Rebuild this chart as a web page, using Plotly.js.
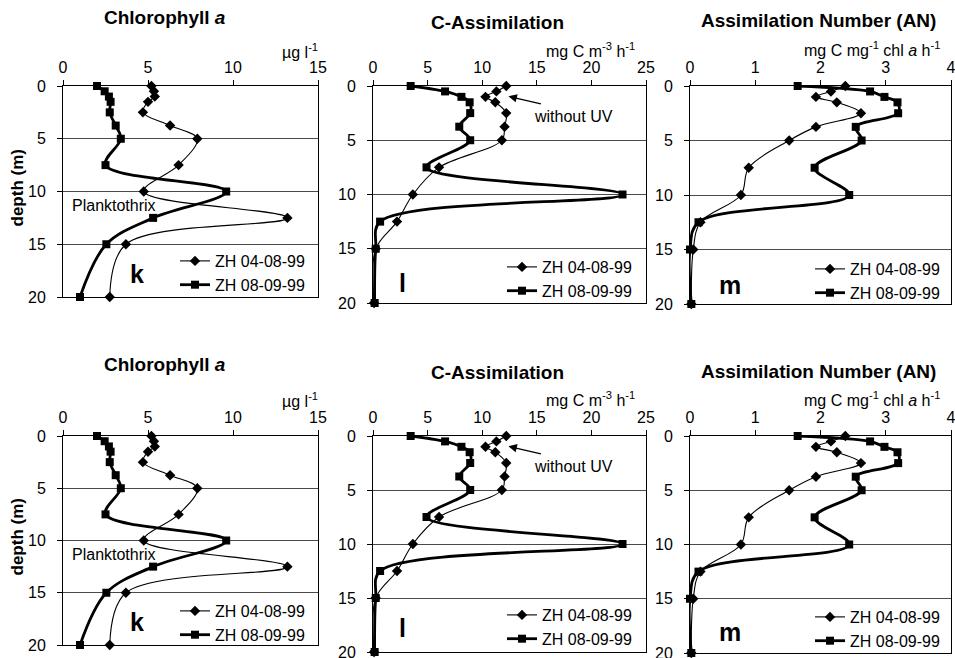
<!DOCTYPE html>
<html>
<head>
<meta charset="utf-8">
<script src="https://cdn.plot.ly/plotly-3.0.1.min.js"></script>
<style>
  html, body { margin: 0; padding: 0; background: #ffffff; }
  #chart { width: 955px; height: 658px; }
</style>
</head>
<body>
<div id="chart"></div>
<script>
// ---------------- DATA ----------------
const depth = [0, 0.5, 1, 1.5, 2.5, 3.75, 5, 7.5, 10, 12.5, 15, 20];
const seriesNames = ['ZH 04-08-99', 'ZH 08-09-99'];

const chlA_040899 = [5.2, 5.35, 5.4, 5.0, 4.7, 6.3, 7.9, 6.8, 4.75, 13.2, 3.7, 2.75];
const chlA_080999 = [2.0, 2.45, 2.7, 2.8, 2.75, 3.1, 3.4, 2.5, 9.6, 5.3, 2.55, 1.0];

const cAss_040899 = [12.2, 11.3, 10.3, 11.2, 12.2, 12.05, 11.8, 6.05, 3.65, 2.2, 0.25, 0.1];
const cAss_080999 = [3.45, 6.6, 8.1, 8.85, 8.9, 7.9, 8.9, 4.9, 22.85, 0.65, 0.25, 0.15];

const an_040899 = [2.38, 2.16, 1.93, 2.25, 2.62, 1.93, 1.52, 0.9, 0.78, 0.16, 0.05, 0.02];
const an_080999 = [1.65, 2.76, 2.98, 3.18, 3.19, 2.54, 2.63, 1.91, 2.44, 0.13, 0.0, 0.02];

const xRanges = [[0, 15], [0, 25], [0, 4]];
const xTicks = [[0, 5, 10, 15], [0, 5, 10, 15, 20, 25], [0, 1, 2, 3, 4]];
const depthTicks = [0, 5, 10, 15, 20];

const panelTitles = ['<b>Chlorophyll <i>a</i></b>', '<b>C-Assimilation</b>', '<b>Assimilation Number (AN)</b>'];
const unitLabels = ['µg l<sup>-1</sup>', 'mg C m<sup>-3</sup> h<sup>-1</sup>', 'mg C mg<sup>-1</sup> chl <i>a</i> h<sup>-1</sup>'];
const panelLetters = ['k', 'l', 'm'];

// ---------------- LAYOUT GEOMETRY (pixels) ----------------
const W = 955, H = 658;
const FONT = 'Liberation Sans, Arial, Helvetica, sans-serif';
const px = v => v / W;
const py = v => 1 - v / H;

// plot areas: [left, right, top, bottom]
const areas = [
  [63, 318, 86, 297], [373, 646, 86, 303], [690, 951, 86, 304],
  [63, 318, 436, 645], [373, 646, 436, 652], [690, 951, 436, 653]
];
const titlePos = [[165, 18], [497, 22], [818, 21], [165, 364], [497, 372], [818, 371]];
const unitPos = [[320, 51], [637, 50], [942, 49], [320, 400], [637, 399], [942, 399]];
const letterPos = [[137, 274], [402, 283], [730, 285], [137, 622], [402, 628], [730, 632]];
const legendPos = [[310, 244], [637, 250], [945, 252], [310, 594], [637, 598], [945, 600]];

const dataSets = [
  [chlA_040899, chlA_080999],
  [cAss_040899, cAss_080999],
  [an_040899, an_080999]
];

const traces = [];
const layout = {
  width: W, height: H,
  margin: {l: 0, r: 0, t: 0, b: 0},
  paper_bgcolor: '#ffffff',
  plot_bgcolor: '#ffffff',
  font: {family: FONT, size: 16, color: '#000'},
  showlegend: true,
  annotations: [],
  shapes: []
};

for (let p = 0; p < 6; p++) {
  const col = p % 3;
  const idx = p + 1;
  const xa = idx === 1 ? 'x' : 'x' + idx;
  const ya = idx === 1 ? 'y' : 'y' + idx;
  const lg = idx === 1 ? 'legend' : 'legend' + idx;
  const [l, r, t, b] = areas[p];

  layout[idx === 1 ? 'xaxis' : 'xaxis' + idx] = {
    domain: [px(l), px(r)], anchor: ya, side: 'top',
    range: xRanges[col], tickvals: xTicks[col], ticks: 'outside', ticklen: 5,
    tickcolor: '#000', showline: true, linecolor: '#000', linewidth: 1, mirror: true,
    showgrid: false, zeroline: false, ticklabelstandoff: 1, ticklabeloverflow: 'allow',
    tickfont: {family: FONT, size: 16, color: '#000'}, fixedrange: true
  };
  layout[idx === 1 ? 'yaxis' : 'yaxis' + idx] = {
    domain: [py(b), py(t)], anchor: xa,
    range: [20, 0], tickvals: depthTicks, ticks: 'outside', ticklen: 5,
    tickcolor: '#000', showline: true, linecolor: '#000', linewidth: 1, mirror: true,
    showgrid: true, gridcolor: '#4a4a4a', gridwidth: 1, zeroline: false,
    ticklabelstandoff: 8, ticklabeloverflow: 'allow',
    tickfont: {family: FONT, size: 16, color: '#000'}, fixedrange: true
  };

  const [d1, d2] = dataSets[col];
  traces.push({
    type: 'scatter', mode: 'lines+markers', x: d1, y: depth, xaxis: xa, yaxis: ya,
    name: seriesNames[0], legend: lg, cliponaxis: false,
    line: {color: '#000', width: 1.1, shape: 'spline', smoothing: 1},
    marker: {symbol: 'diamond', size: 8, color: '#000'}
  });
  traces.push({
    type: 'scatter', mode: 'lines+markers', x: d2, y: depth, xaxis: xa, yaxis: ya,
    name: seriesNames[1], legend: lg, cliponaxis: false,
    line: {color: '#000', width: 2.8, shape: 'spline', smoothing: 1},
    marker: {symbol: 'square', size: 8, color: '#000'}
  });

  layout[lg] = {
    x: px(legendPos[p][0]), y: py(legendPos[p][1]), xanchor: 'right', yanchor: 'top',
    xref: 'paper', yref: 'paper',
    bgcolor: 'rgba(0,0,0,0)', borderwidth: 0,
    font: {family: FONT, size: 16, color: '#000'}
  };

  // title
  layout.annotations.push({
    xref: 'paper', yref: 'paper', x: px(titlePos[p][0]), y: py(titlePos[p][1]),
    xanchor: 'center', yanchor: 'middle', showarrow: false,
    text: panelTitles[col], font: {family: FONT, size: 19, color: '#000'}
  });
  // units
  layout.annotations.push({
    xref: 'paper', yref: 'paper', x: px(unitPos[p][0]), y: py(unitPos[p][1]),
    xanchor: 'right', yanchor: 'middle', showarrow: false,
    text: unitLabels[col], font: {family: FONT, size: 16, color: '#000'}
  });
  // panel letter
  layout.annotations.push({
    xref: 'paper', yref: 'paper', x: px(letterPos[p][0]), y: py(letterPos[p][1]),
    xanchor: 'center', yanchor: 'middle', showarrow: false,
    text: '<b>' + panelLetters[col] + '</b>', font: {family: FONT, size: 25, color: '#000'}
  });

  if (col === 0) {
    layout.annotations.push({
      xref: 'paper', yref: 'paper', x: px(17), y: py((t + b) / 2 - 3),
      xanchor: 'center', yanchor: 'middle', showarrow: false, textangle: -90,
      text: '<b>depth (m)</b>', font: {family: FONT, size: 17, color: '#000'}
    });
    layout.annotations.push({
      xref: xa, yref: ya, x: 3.0, y: 11.3,
      xanchor: 'center', yanchor: 'middle', showarrow: false,
      text: 'Planktothrix', font: {family: FONT, size: 16, color: '#000'}
    });
  }
  if (col === 1) {
    layout.annotations.push({
      xref: xa, yref: ya, x: 18.4, y: 2.85,
      xanchor: 'center', yanchor: 'middle', showarrow: false,
      text: 'without UV', font: {family: FONT, size: 16, color: '#000'}
    });
    layout.annotations.push({
      xref: xa, yref: ya, x: 12.4, y: 0.95, text: '',
      showarrow: true, arrowhead: 2, arrowsize: 1.3, arrowwidth: 1.3, arrowcolor: '#000',
      ax: 34, ay: 8
    });
  }
}

Plotly.newPlot('chart', traces, layout, {displayModeBar: false, staticPlot: true});
</script>
</body>
</html>
